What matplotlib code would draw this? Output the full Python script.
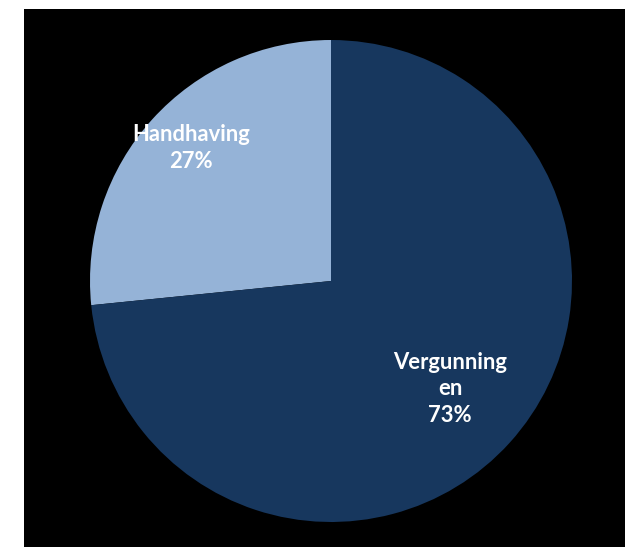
import matplotlib.pyplot as plt

# shares of the pie (percent)
categories = ['Handhaving', 'Vergunning\nen']
shares = [26.6, 73.4]
pct_labels = ['27%', '73%']
colors = ['#95B3D7', '#17375E']

W, H = 625, 547
fig = plt.figure(figsize=(W / 100, H / 100), dpi=100, facecolor='white')

# black backdrop
bg = fig.add_axes([23.5 / W, 0, 1 - 23.5 / W, 1 - 9 / H])
bg.set_facecolor('black')
bg.set_xticks([])
bg.set_yticks([])
for s in bg.spines.values():
    s.set_visible(False)

cx, cy, r = 331, 281, 241
ax = fig.add_axes([(cx - r) / W, (H - cy - r) / H, 2 * r / W, 2 * r / H])
ax.set_facecolor('none')

wedges, _ = ax.pie(shares, colors=colors, startangle=90, counterclock=True,
                   radius=1, wedgeprops=dict(edgecolor='none'))
ax.set_xlim(-1, 1)
ax.set_ylim(-1, 1)
ax.axis('off')

label_pos = [(-0.581, 0.552), (0.494, -0.448)]
for cat, pct, (x, y) in zip(categories, pct_labels, label_pos):
    ax.text(x, y, cat + '\n' + pct, ha='center', va='center', color='white',
            fontsize=15.8, fontweight='bold', family='Lato', linespacing=1.3)

fig.savefig('out.png', dpi=100, facecolor='white')
